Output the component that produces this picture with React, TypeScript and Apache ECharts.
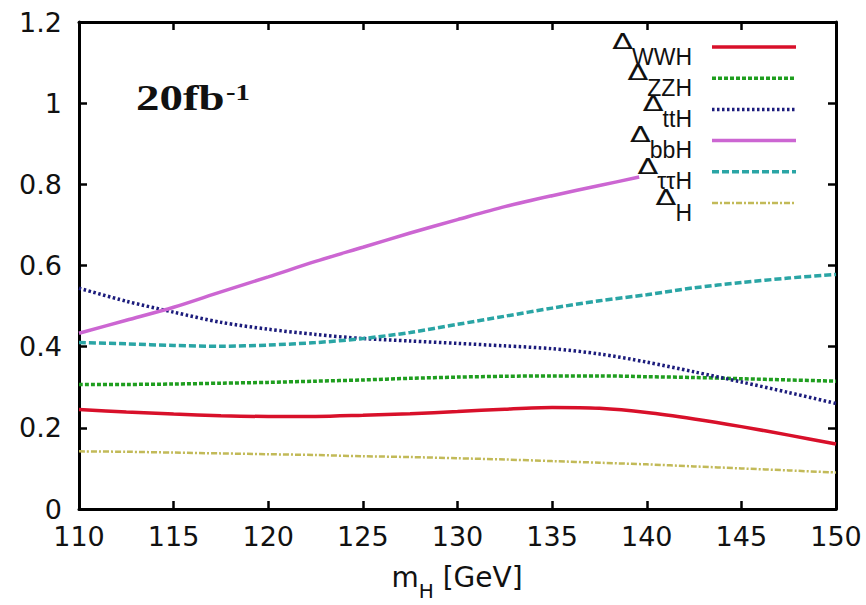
import React, { useEffect, useRef } from "react";
import * as echarts from "echarts";

// ---- data ----
const massGrid = [110, 112.5, 115, 117.5, 120, 122.5, 125, 127.5, 130, 132.5, 135, 137.5, 140, 142.5, 145, 147.5, 150];
const deltaWWH = [0.245, 0.239, 0.234, 0.23, 0.228, 0.228, 0.231, 0.235, 0.24, 0.246, 0.25, 0.248, 0.238, 0.222, 0.203, 0.182, 0.16];
const deltaZZH = [0.307, 0.307, 0.308, 0.31, 0.312, 0.315, 0.318, 0.322, 0.325, 0.327, 0.328, 0.328, 0.326, 0.324, 0.321, 0.318, 0.315];
const deltaTTH = [0.544, 0.512, 0.485, 0.46, 0.443, 0.43, 0.42, 0.414, 0.408, 0.402, 0.395, 0.382, 0.362, 0.338, 0.313, 0.287, 0.26];
const massBBH = [110, 112.5, 115, 117.5, 120, 122.5, 125, 127.5, 130, 132.5, 135, 137.5, 139.6];
const deltaBBH = [0.433, 0.465, 0.497, 0.535, 0.572, 0.61, 0.645, 0.68, 0.713, 0.745, 0.772, 0.797, 0.818];
const deltaTauTauH = [0.41, 0.407, 0.403, 0.401, 0.404, 0.41, 0.42, 0.435, 0.455, 0.475, 0.495, 0.513, 0.528, 0.545, 0.558, 0.569, 0.578];
const deltaH = [0.142, 0.141, 0.139, 0.137, 0.135, 0.133, 0.13, 0.128, 0.125, 0.122, 0.118, 0.114, 0.11, 0.105, 0.1, 0.095, 0.09];

const legendSubscripts = ["WWH", "ZZH", "ttH", "bbH", "ττH", "H"];
const xTicks = { min: 110, max: 150, interval: 5 };
const yTicks = { min: 0, max: 1.2, interval: 0.2 };
const luminosityLabel = "20fb";
const luminositySup = "-1";

// ---- styles ----
const seriesStyles = [
  { color: "#d8102a", width: 3.5, dash: [] as number[] },
  { color: "#1f9e1f", width: 3.5, dash: [4, 2] },
  { color: "#1c1c7c", width: 3.5, dash: [2.5, 2.5] },
  { color: "#cc66d2", width: 3.5, dash: [] as number[] },
  { color: "#2aa5a5", width: 3.5, dash: [7, 3] },
  { color: "#c2ba58", width: 2.5, dash: [6, 2, 2, 2] },
];

function pairs(xs: number[], ys: number[]) {
  return ys.map((y, i) => [xs[i], y]);
}

function textWidth(text: string, font: string) {
  const ctx = document.createElement("canvas").getContext("2d");
  if (!ctx) return text.length * 12;
  ctx.font = font;
  return ctx.measureText(text).width;
}

export default function App() {
  const ref = useRef<HTMLDivElement>(null);

  useEffect(() => {
    if (!ref.current) return;
    const chart = echarts.init(ref.current, undefined, { renderer: "svg" });

    const seriesData = [
      pairs(massGrid, deltaWWH),
      pairs(massGrid, deltaZZH),
      pairs(massGrid, deltaTTH),
      pairs(massBBH, deltaBBH),
      pairs(massGrid, deltaTauTauH),
      pairs(massGrid, deltaH),
    ];

    const series = seriesData.map((d, i) => ({
      type: "line",
      name: "Δ" + legendSubscripts[i],
      data: d,
      smooth: 0.3,
      showSymbol: false,
      symbol: "none",
      lineStyle: {
        color: seriesStyles[i].color,
        width: seriesStyles[i].width,
        type: seriesStyles[i].dash.length ? seriesStyles[i].dash : "solid",
        cap: "butt",
      },
      z: 2 + i,
    }));

    const txt = (text: string, x: number, y: number, font: string, align: string, extra: any = {}) => ({
      type: "text",
      x,
      y,
      ...extra,
      style: { text, font, fill: "#111", textAlign: align, align, textVerticalAlign: "middle", verticalAlign: "middle" },
      z: 100,
    });

    // legend built from graphic elements (text left, sample right)
    const subFont = '23px "Liberation Sans"';
    const deltaFont = '21px "DejaVu Sans"';
    const graphics: any[] = [];
    const textRight = 692;
    legendSubscripts.forEach((s, i) => {
      const y = 47 + 31.2 * i;
      const w = textWidth(s, subFont);
      graphics.push(txt(s, textRight, y + 9.5, subFont, "right"));
      graphics.push(txt("Δ", textRight - w + 1, y - 5.5, deltaFont, "right", { scaleX: 1.45 }));
      graphics.push({
        type: "line",
        shape: { x1: 712, y1: y, x2: 796, y2: y },
        style: { stroke: seriesStyles[i].color, lineWidth: seriesStyles[i].width, lineDash: seriesStyles[i].dash.length ? seriesStyles[i].dash : null },
        z: 100,
      });
    });

    // luminosity annotation
    graphics.push(txt(luminosityLabel, 136, 98, 'bold 35px "Liberation Serif"', "left", { scaleX: 1.34 }));
    graphics.push(txt(luminositySup, 226, 92, 'bold 23px "Liberation Serif"', "left", { scaleX: 1.25 }));

    // x-axis title m_H [GeV]
    const mFont = '28px "DejaVu Sans"';
    const hFont = '20px "DejaVu Sans"';
    const wM = textWidth("m", mFont);
    const wH = textWidth("H", hFont);
    const wG = textWidth(" [GeV]", mFont);
    const startX = 457 - (wM + wH + wG) / 2;
    graphics.push(txt("m", startX, 577, mFont, "left"));
    graphics.push(txt("H", startX + wM, 591, hFont, "left"));
    graphics.push(txt(" [GeV]", startX + wM + wH, 577, mFont, "left"));

    const axisLine = { show: true, onZero: false, lineStyle: { color: "#000", width: 3 } };
    const axisTick = { show: true, inside: true, length: 8, lineStyle: { color: "#000", width: 2.5 } };
    const labelStyle = { fontFamily: "DejaVu Sans", fontSize: 27, color: "#111" };

    chart.setOption({
      animation: false,
      backgroundColor: "#fff",
      grid: { left: 79, right: 30, top: 22, bottom: 96, containLabel: false },
      xAxis: [
        {
          type: "value", position: "bottom", ...xTicks,
          axisLine, axisTick, splitLine: { show: false },
          axisLabel: { ...labelStyle, margin: 14, showMinLabel: true, showMaxLabel: true },
        },
        {
          type: "value", position: "top", ...xTicks,
          axisLine, axisTick, splitLine: { show: false },
          axisLabel: { show: false },
        },
      ],
      yAxis: [
        {
          type: "value", position: "left", ...yTicks,
          axisLine, axisTick, splitLine: { show: false },
          axisLabel: { ...labelStyle, margin: 17, showMinLabel: true, showMaxLabel: true },
        },
        {
          type: "value", position: "right", ...yTicks,
          axisLine, axisTick, splitLine: { show: false },
          axisLabel: { show: false },
        },
      ],
      series,
      graphic: { elements: graphics },
    });

    return () => chart.dispose();
  }, []);

  return <div ref={ref} style={{ position: "fixed", left: 0, top: 0, width: 866, height: 605 }} />;
}
